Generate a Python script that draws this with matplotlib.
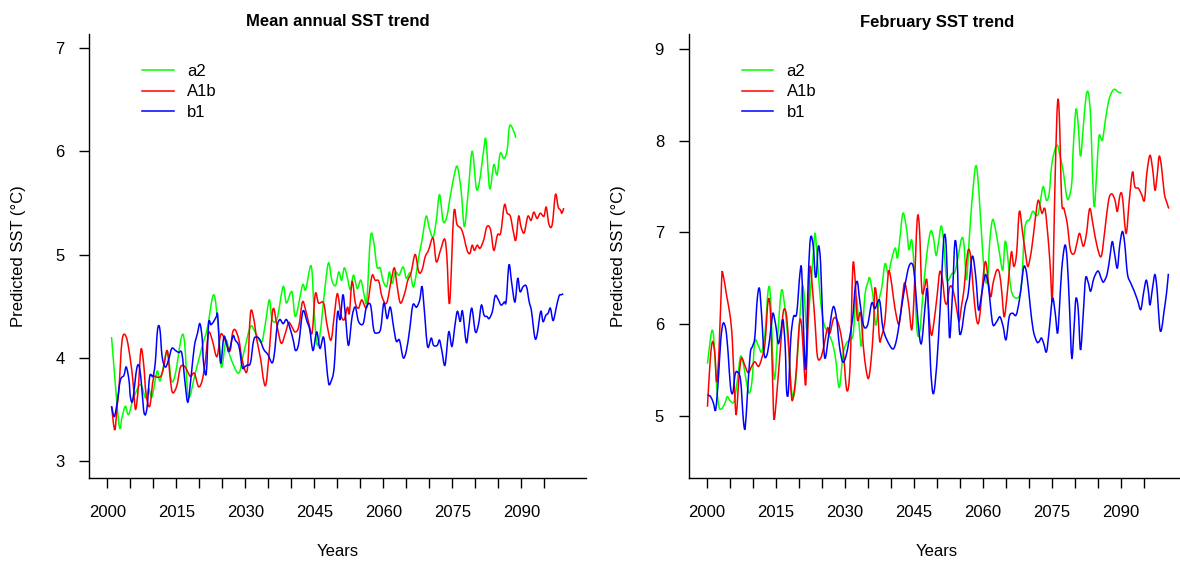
import matplotlib
matplotlib.use("Agg")
import matplotlib.pyplot as plt
from matplotlib.path import Path
from matplotlib.patches import PathPatch

plt.rcParams['font.family'] = ['Liberation Sans', 'DejaVu Sans']
plt.rcParams['font.size'] = 12

# values (year, predicted SST)
ann_a2_yr = [2000.9, 2002.5, 2003.2, 2003.9, 2004.6, 2005.7, 2007.2, 2008.3, 2009.0, 2009.7,
             2010.8, 2011.5, 2013.0, 2013.9, 2014.8, 2016.1, 2016.8, 2017.6, 2019.1, 2020.6,
             2021.7, 2023.1, 2024.1, 2024.8, 2025.8, 2026.7, 2028.5, 2029.6, 2031.1, 2032.2,
             2033.5, 2034.3, 2035.2, 2035.8, 2036.9, 2038.2, 2038.9, 2040.1, 2040.9, 2042.4,
             2043.1, 2044.3, 2044.9, 2045.5, 2046.2, 2047.4, 2048.1, 2048.8, 2049.6, 2050.3,
             2050.9, 2051.5, 2052.1, 2052.8, 2053.5, 2054.3, 2055.1, 2055.9, 2056.4, 2057.2,
             2057.9, 2058.6, 2059.3, 2059.9, 2060.7, 2061.3, 2061.9, 2062.6, 2063.4, 2064.3,
             2065.0, 2065.8, 2066.6, 2067.7, 2068.4, 2069.3, 2070.0, 2070.8, 2071.5, 2072.2,
             2073.0, 2073.8, 2074.6, 2075.7, 2076.2, 2076.9, 2077.6, 2078.4, 2079.3, 2080.2,
             2080.9, 2081.8, 2082.3, 2083.1, 2084.0, 2084.7, 2085.4, 2086.2, 2086.9, 2087.4,
             2088.1, 2088.8]
ann_a2 = [4.20, 3.36, 3.43, 3.53, 3.45, 3.61, 3.74, 3.61, 3.70, 3.62,
          3.87, 3.78, 4.06, 3.78, 3.85, 4.20, 4.14, 3.62, 3.85, 4.11,
          4.28, 4.61, 4.30, 3.91, 4.17, 4.01, 3.85, 4.04, 4.30, 4.24,
          4.15, 4.32, 4.56, 4.37, 4.38, 4.69, 4.53, 4.64, 4.40, 4.70,
          4.66, 4.89, 4.49, 4.14, 4.22, 4.72, 4.92, 4.75, 4.70, 4.83,
          4.75, 4.87, 4.79, 4.66, 4.80, 4.67, 4.75, 4.59, 4.56, 5.17,
          5.12, 4.88, 4.87, 4.75, 4.69, 4.83, 4.72, 4.83, 4.80, 4.88,
          4.77, 4.82, 4.69, 4.98, 5.14, 5.37, 5.25, 5.17, 5.33, 5.58,
          5.32, 5.37, 5.58, 5.83, 5.83, 5.62, 5.27, 5.59, 6.00, 5.64,
          5.71, 6.01, 6.11, 5.64, 5.87, 5.77, 5.98, 5.93, 6.01, 6.24,
          6.22, 6.13]

ann_a1b_yr = [2000.9, 2001.6, 2002.1, 2002.5, 2003.2, 2004.1, 2005.0, 2005.6, 2006.1, 2006.7,
              2007.3, 2007.9, 2008.4, 2009.2, 2010.0, 2010.8, 2011.6, 2012.2, 2013.0, 2013.7,
              2014.2, 2015.1, 2015.9, 2016.9, 2018.0, 2018.9, 2019.8, 2020.6, 2021.3, 2022.0,
              2022.8, 2023.8, 2024.6, 2025.3, 2026.0, 2026.7, 2027.2, 2027.8, 2028.6, 2029.3,
              2030.4, 2031.1, 2031.8, 2032.5, 2033.3, 2034.0, 2034.5, 2035.1, 2036.0, 2036.9,
              2037.8, 2038.7, 2039.4, 2040.1, 2040.8, 2041.6, 2042.4, 2043.1, 2043.8, 2044.5,
              2045.2, 2045.9, 2047.0, 2047.7, 2048.6, 2049.3, 2050.0, 2050.8, 2051.5, 2052.2,
              2052.6, 2053.2, 2053.9, 2054.6, 2055.3, 2056.4, 2057.5, 2058.2, 2059.0, 2059.7,
              2060.7, 2061.7, 2062.4, 2063.0, 2063.7, 2064.6, 2065.3, 2066.0, 2066.9, 2067.7,
              2068.4, 2069.1, 2069.8, 2070.8, 2071.5, 2072.4, 2073.3, 2073.8, 2074.4, 2075.3,
              2076.0, 2076.9, 2077.5, 2078.2, 2078.8, 2079.3, 2079.8, 2080.4, 2081.0, 2081.8,
              2082.5, 2083.3, 2084.0, 2084.8, 2085.5, 2086.3, 2086.9, 2087.6, 2088.3, 2088.8,
              2089.4, 2089.9, 2090.6, 2091.4, 2092.1, 2092.7, 2093.4, 2094.1, 2094.9, 2095.4,
              2096.0, 2096.7, 2097.4, 2098.0, 2098.5, 2098.8, 2099.2]
ann_a1b = [3.53, 3.30, 3.53, 3.69, 4.17, 4.20, 3.98, 3.75, 3.50, 3.70,
           4.08, 3.93, 3.65, 3.53, 3.80, 3.81, 3.82, 3.90, 4.07, 3.78,
           3.66, 3.73, 3.91, 3.91, 3.82, 3.85, 3.72, 3.78, 3.97, 4.24,
           4.17, 4.01, 4.22, 4.20, 4.12, 4.07, 4.24, 4.27, 4.17, 3.98,
           3.88, 4.43, 4.38, 4.17, 3.99, 3.77, 3.75, 4.01, 4.47, 4.30,
           4.14, 4.24, 4.34, 4.30, 4.25, 4.30, 4.54, 4.46, 4.33, 4.24,
           4.62, 4.53, 4.53, 4.33, 4.17, 4.40, 4.62, 4.41, 4.37, 4.49,
           4.43, 4.74, 4.53, 4.48, 4.56, 4.49, 4.79, 4.75, 4.74, 4.59,
           4.53, 4.75, 4.87, 4.69, 4.53, 4.62, 4.75, 4.82, 5.00, 4.83,
           4.85, 4.98, 5.04, 5.16, 4.93, 5.04, 5.15, 4.98, 4.53, 5.40,
           5.29, 5.25, 5.17, 5.04, 5.01, 5.09, 5.04, 5.09, 5.06, 5.14,
           5.27, 5.24, 5.04, 5.19, 5.21, 5.48, 5.40, 5.37, 5.21, 5.14,
           5.37, 5.27, 5.21, 5.37, 5.33, 5.41, 5.35, 5.40, 5.37, 5.46,
           5.29, 5.29, 5.58, 5.46, 5.43, 5.40, 5.45]

ann_b1_yr = [2000.9, 2001.5, 2002.1, 2002.8, 2003.6, 2004.1, 2004.7, 2005.0, 2005.5, 2006.4,
             2007.0, 2007.5, 2008.0, 2008.6, 2009.2, 2009.9, 2010.4, 2010.9, 2011.4, 2011.9,
             2012.6, 2013.3, 2014.0, 2014.8, 2015.5, 2016.2, 2016.9, 2017.5, 2018.2, 2018.9,
             2019.6, 2020.1, 2020.6, 2020.9, 2021.5, 2022.0, 2022.5, 2023.1, 2023.7, 2024.0,
             2024.6, 2025.3, 2025.9, 2026.4, 2027.3, 2027.8, 2028.6, 2029.3, 2029.8, 2030.4,
             2031.1, 2031.8, 2032.5, 2033.2, 2034.0, 2034.9, 2035.8, 2036.3, 2036.9, 2037.5,
             2038.2, 2038.9, 2039.6, 2040.4, 2040.9, 2041.6, 2042.5, 2043.4, 2044.0, 2044.7,
             2045.5, 2046.2, 2047.0, 2047.6, 2048.1, 2048.6, 2049.3, 2050.0, 2050.6, 2051.2,
             2051.7, 2052.4, 2053.2, 2053.9, 2054.6, 2055.6, 2056.3, 2057.2, 2057.9, 2058.6,
             2059.4, 2060.1, 2060.8, 2061.5, 2062.2, 2062.8, 2063.5, 2064.3, 2065.0, 2065.7,
             2066.4, 2067.2, 2067.9, 2068.4, 2068.9, 2069.6, 2070.4, 2070.9, 2071.7, 2072.2,
             2072.7, 2073.4, 2074.2, 2074.9, 2075.6, 2076.1, 2076.7, 2077.2, 2078.0, 2078.5,
             2079.2, 2080.0, 2080.7, 2081.3, 2081.9, 2082.5, 2083.0, 2083.7, 2084.3, 2085.0,
             2085.6, 2086.3, 2086.7, 2087.3, 2087.9, 2088.6, 2089.2, 2089.7, 2090.4, 2091.1,
             2091.7, 2092.2, 2092.9, 2093.4, 2094.2, 2094.7, 2095.3, 2095.8, 2096.3, 2096.9,
             2097.6, 2098.2, 2098.7, 2099.1]
ann_b1 = [3.53, 3.43, 3.56, 3.78, 3.83, 3.91, 3.78, 3.62, 3.59, 3.90,
          3.90, 3.69, 3.46, 3.51, 3.82, 3.82, 3.95, 4.27, 4.28, 4.01,
          3.91, 3.98, 4.09, 4.07, 4.05, 4.04, 3.75, 3.57, 3.82, 4.11,
          4.24, 4.33, 4.19, 3.95, 3.85, 4.33, 4.32, 4.35, 4.40, 4.40,
          3.95, 4.20, 4.14, 4.06, 4.21, 4.17, 4.11, 3.91, 3.91, 3.93,
          3.95, 4.17, 4.20, 4.17, 4.08, 4.03, 3.95, 4.04, 4.30, 4.37,
          4.33, 4.37, 4.30, 4.17, 4.07, 4.14, 4.45, 4.35, 4.27, 4.07,
          4.25, 4.09, 4.20, 3.95, 3.75, 3.77, 3.91, 4.43, 4.37, 4.61,
          4.43, 4.12, 4.40, 4.49, 4.35, 4.33, 4.49, 4.51, 4.27, 4.24,
          4.28, 4.53, 4.38, 4.49, 4.30, 4.16, 4.17, 4.00, 4.07, 4.27,
          4.51, 4.49, 4.56, 4.69, 4.46, 4.11, 4.19, 4.12, 4.12, 4.17,
          4.07, 3.93, 4.25, 4.11, 4.33, 4.45, 4.35, 4.45, 4.15, 4.27,
          4.48, 4.25, 4.33, 4.51, 4.41, 4.40, 4.38, 4.45, 4.60, 4.56,
          4.51, 4.54, 4.55, 4.90, 4.72, 4.54, 4.77, 4.64, 4.69, 4.69,
          4.54, 4.45, 4.20, 4.22, 4.45, 4.35, 4.41, 4.43, 4.48, 4.36,
          4.49, 4.60, 4.61, 4.62]

feb_a2_yr = [2000.1, 2001.0, 2001.5, 2002.1, 2002.6, 2003.2, 2003.9, 2004.4, 2005.1, 2005.9,
             2006.6, 2007.3, 2008.0, 2008.6, 2009.2, 2009.8, 2010.4, 2011.2, 2011.9, 2012.6,
             2013.3, 2013.8, 2014.4, 2014.8, 2015.5, 2016.2, 2016.9, 2017.7, 2018.4, 2019.1,
             2019.9, 2020.6, 2021.1, 2021.7, 2022.4, 2023.1, 2023.5, 2024.0, 2024.6, 2025.4,
             2026.4, 2027.3, 2028.0, 2028.5, 2028.9, 2029.6, 2030.4, 2031.1, 2031.8, 2032.4,
             2033.1, 2033.6, 2034.3, 2035.0, 2035.4, 2036.1, 2036.7, 2037.4, 2038.0, 2038.7,
             2039.4, 2040.1, 2040.9, 2041.4, 2041.9, 2042.6, 2043.4, 2043.9, 2044.5, 2045.0,
             2045.6, 2046.2, 2046.9, 2047.8, 2048.6, 2049.2, 2049.8, 2050.3, 2050.9, 2051.4,
             2052.0, 2052.5, 2053.2, 2053.9, 2054.6, 2055.4, 2055.9, 2056.4, 2057.0, 2057.5,
             2058.3, 2058.8, 2059.4, 2060.0, 2060.5, 2061.0, 2061.5, 2062.1, 2062.8, 2063.6,
             2064.3, 2064.8, 2065.3, 2066.0, 2066.7, 2067.8, 2068.4, 2069.0, 2069.5, 2070.1,
             2070.8, 2071.5, 2072.0, 2072.5, 2073.1, 2073.8, 2074.4, 2074.9, 2075.6, 2076.2,
             2076.7, 2077.4, 2078.2, 2078.7, 2079.3, 2079.6, 2080.2, 2080.7, 2081.2, 2081.8,
             2082.4, 2082.9, 2083.4, 2083.8, 2084.2, 2084.7, 2085.2, 2085.6, 2086.0, 2086.5,
             2087.3, 2088.0, 2088.6, 2089.4, 2090.1]
feb_a2 = [5.57, 5.92, 5.83, 5.32, 5.10, 5.08, 5.14, 5.21, 5.16, 5.16,
          5.39, 5.65, 5.54, 5.36, 5.25, 5.39, 5.81, 5.76, 5.70, 5.90,
          6.37, 6.30, 5.54, 5.43, 5.97, 6.37, 6.19, 5.76, 5.27, 5.28,
          5.83, 6.37, 6.34, 5.94, 6.30, 6.77, 6.99, 6.70, 6.30, 6.01,
          5.90, 5.79, 5.61, 5.36, 5.34, 5.68, 5.80, 5.83, 5.90, 6.30,
          5.97, 5.77, 6.30, 6.46, 6.50, 6.30, 5.99, 6.26, 6.40, 6.66,
          6.55, 6.70, 6.83, 6.72, 6.92, 7.21, 7.03, 6.81, 6.92, 6.63,
          5.97, 5.90, 6.30, 6.77, 7.01, 6.95, 6.75, 6.88, 7.07, 6.92,
          6.52, 6.48, 6.55, 6.57, 6.74, 6.94, 6.85, 6.48, 6.92, 7.28,
          7.70, 7.64, 7.21, 6.74, 6.48, 6.50, 6.92, 7.14, 7.01, 6.77,
          6.59, 6.90, 6.77, 6.41, 6.30, 6.30, 6.45, 7.00, 7.12, 7.14,
          7.23, 7.19, 7.20, 7.35, 7.50, 7.35, 7.43, 7.72, 7.90, 7.95,
          7.84, 7.68, 7.39, 7.38, 7.54, 7.90, 8.34, 8.17, 7.83, 8.15,
          8.48, 8.52, 8.26, 7.64, 7.28, 7.64, 8.04, 8.03, 8.01, 8.19,
          8.43, 8.53, 8.56, 8.53, 8.52]

feb_a1b_yr = [2000.1, 2000.7, 2001.2, 2001.7, 2002.1, 2002.6, 2003.2, 2003.5, 2004.3, 2005.0,
              2005.5, 2006.1, 2006.4, 2007.0, 2007.5, 2008.3, 2009.0, 2009.7, 2010.4, 2011.2,
              2011.9, 2012.6, 2013.3, 2013.8, 2014.3, 2014.6, 2015.3, 2016.1, 2016.6, 2017.2,
              2017.7, 2018.2, 2018.6, 2019.3, 2020.1, 2020.6, 2021.1, 2021.5, 2022.0, 2022.4,
              2023.0, 2023.5, 2024.0, 2024.7, 2025.4, 2026.2, 2026.7, 2027.5, 2028.2, 2028.9,
              2029.6, 2030.4, 2031.1, 2031.7, 2032.2, 2032.7, 2033.4, 2034.0, 2034.6, 2035.1,
              2035.6, 2036.2, 2036.5, 2037.0, 2037.5, 2037.9, 2038.7, 2039.4, 2039.9, 2040.5,
              2041.2, 2041.8, 2042.5, 2043.0, 2043.8, 2044.5, 2045.0, 2045.7, 2046.2, 2046.7,
              2047.3, 2047.8, 2048.3, 2048.8, 2049.3, 2050.0, 2050.6, 2051.2, 2051.7, 2052.2,
              2052.8, 2053.5, 2054.3, 2054.8, 2055.3, 2055.9, 2056.3, 2056.8, 2057.3, 2057.9,
              2058.5, 2059.0, 2059.5, 2060.1, 2060.6, 2061.2, 2061.7, 2062.2, 2063.0, 2063.6,
              2064.1, 2064.6, 2065.2, 2065.7, 2066.2, 2066.7, 2067.3, 2067.9, 2068.6, 2069.3,
              2069.8, 2070.6, 2071.3, 2072.0, 2072.8, 2073.5, 2074.3, 2074.7, 2075.1, 2075.7,
              2076.2, 2076.6, 2077.1, 2077.6, 2078.3, 2079.0, 2079.8, 2080.4, 2081.0, 2081.8,
              2082.5, 2083.2, 2084.0, 2084.8, 2085.7, 2086.5, 2087.3, 2088.0, 2088.7, 2089.2,
              2089.8, 2090.3, 2091.1, 2091.8, 2092.5, 2093.0, 2093.8, 2094.5, 2095.1, 2095.6,
              2096.3, 2096.9, 2097.4, 2097.9, 2098.3, 2098.8, 2099.4, 2100.0, 2100.4]
feb_a1b = [5.10, 5.61, 5.81, 5.68, 5.37, 5.70, 6.50, 6.54, 6.30, 6.10,
           5.83, 5.16, 5.03, 5.45, 5.63, 5.54, 5.47, 5.54, 5.59, 5.54,
           5.63, 5.79, 6.26, 6.12, 5.32, 4.96, 5.32, 5.83, 6.14, 6.12,
           5.83, 5.32, 5.17, 5.43, 6.01, 5.97, 5.54, 5.36, 6.08, 6.63,
           6.34, 6.01, 5.65, 5.63, 5.76, 5.96, 5.90, 6.06, 6.05, 5.94,
           5.72, 5.28, 5.54, 6.63, 6.48, 6.05, 6.12, 5.75, 5.50, 5.41,
           5.57, 5.97, 6.39, 6.23, 5.83, 5.86, 6.05, 6.55, 6.52, 6.30,
           6.08, 6.01, 6.30, 6.45, 6.23, 5.94, 6.30, 7.14, 7.03, 6.37,
           6.40, 6.48, 6.08, 5.88, 6.01, 6.30, 6.57, 6.48, 6.26, 6.23,
           6.41, 6.37, 6.16, 6.03, 6.19, 6.39, 6.63, 6.81, 6.74, 6.37,
           6.08, 6.01, 6.19, 6.55, 6.68, 6.45, 6.30, 6.45, 6.59, 6.55,
           6.34, 6.08, 6.30, 6.57, 6.79, 6.63, 6.77, 7.23, 7.00, 6.75,
           6.63, 6.83, 7.12, 7.35, 7.21, 7.25, 6.85, 6.55, 6.30, 7.64,
           8.41, 8.26, 7.35, 7.26, 7.10, 6.81, 6.77, 6.88, 6.99, 6.85,
           6.99, 7.26, 7.06, 6.85, 6.74, 7.03, 7.35, 7.42, 7.35, 7.23,
           7.41, 7.39, 6.99, 7.35, 7.66, 7.50, 7.48, 7.41, 7.35, 7.64,
           7.84, 7.68, 7.46, 7.64, 7.83, 7.72, 7.43, 7.32, 7.26]

feb_b1_yr = [2000.1, 2000.8, 2001.4, 2001.9, 2002.5, 2003.0, 2003.5, 2004.1, 2004.6, 2005.1,
             2005.6, 2006.1, 2006.6, 2007.3, 2007.9, 2008.3, 2008.8, 2009.4, 2009.9, 2010.4,
             2010.9, 2011.4, 2011.9, 2012.4, 2013.0, 2013.6, 2014.1, 2014.4, 2015.0, 2015.5,
             2016.0, 2016.5, 2017.0, 2017.3, 2017.7, 2018.2, 2018.8, 2019.5, 2020.2, 2020.6,
             2021.1, 2021.5, 2022.0, 2022.5, 2023.1, 2023.5, 2023.8, 2024.2, 2024.7, 2025.3,
             2025.7, 2026.4, 2027.1, 2027.6, 2028.2, 2028.8, 2029.5, 2030.2, 2030.9, 2031.7,
             2032.2, 2032.7, 2033.2, 2034.0, 2034.9, 2035.8, 2036.5, 2037.5, 2038.2, 2039.1,
             2040.4, 2041.2, 2041.9, 2043.0, 2043.9, 2044.7, 2045.2, 2045.9, 2046.6, 2047.4,
             2047.8, 2048.1, 2048.6, 2049.1, 2049.6, 2050.3, 2051.0, 2051.5, 2052.0, 2052.5,
             2052.8, 2053.4, 2053.9, 2054.4, 2054.8, 2055.3, 2056.1, 2056.8, 2057.5, 2057.9,
             2058.5, 2059.0, 2059.5, 2060.1, 2060.6, 2061.2, 2061.7, 2062.2, 2063.0, 2063.7,
             2064.4, 2065.0, 2065.7, 2066.4, 2067.2, 2067.9, 2068.4, 2068.9, 2069.5, 2070.2,
             2070.9, 2071.7, 2072.2, 2072.7, 2073.2, 2073.8, 2074.4, 2075.1, 2075.7, 2076.2,
             2076.6, 2077.1, 2077.8, 2078.3, 2078.8, 2079.3, 2079.8, 2080.2, 2080.7, 2081.2,
             2081.8, 2082.3, 2082.9, 2083.4, 2084.1, 2085.0, 2085.7, 2086.2, 2087.0, 2087.6,
             2088.1, 2088.6, 2089.2, 2089.7, 2090.3, 2090.8, 2091.4, 2092.1, 2092.8, 2093.6,
             2094.3, 2094.9, 2095.5, 2096.0, 2096.3, 2096.9, 2097.4, 2097.9, 2098.4, 2098.8,
             2099.3, 2099.9, 2100.3]
feb_b1 = [5.23, 5.21, 5.14, 5.07, 5.43, 5.83, 6.01, 5.94, 5.68, 5.32,
          5.25, 5.45, 5.48, 5.39, 4.96, 4.87, 5.25, 5.68, 5.76, 5.86,
          6.26, 6.39, 6.08, 5.68, 5.66, 5.83, 6.05, 6.12, 5.97, 5.79,
          5.90, 6.05, 5.76, 5.28, 5.27, 5.83, 6.08, 6.12, 6.55, 6.57,
          5.79, 5.54, 6.48, 6.94, 6.85, 6.54, 6.55, 6.85, 6.66, 5.83,
          5.63, 5.86, 6.12, 6.19, 6.05, 5.76, 5.59, 5.65, 5.83, 6.08,
          6.39, 6.46, 6.26, 5.99, 5.99, 6.23, 6.17, 6.26, 5.97, 5.83,
          5.73, 5.83, 6.05, 6.41, 6.63, 6.65, 6.48, 6.01, 5.79, 6.19,
          6.39, 6.19, 5.54, 5.25, 5.36, 5.83, 6.48, 6.95, 6.85, 6.12,
          5.86, 6.37, 6.90, 6.70, 5.97, 5.92, 6.19, 6.34, 6.70, 6.72,
          6.48, 6.16, 6.26, 6.45, 6.54, 6.41, 6.16, 5.99, 6.03, 6.08,
          5.97, 5.83, 6.08, 6.12, 6.10, 6.26, 6.45, 6.63, 6.55, 6.23,
          5.94, 5.81, 5.81, 5.85, 5.79, 5.70, 5.94, 6.28, 6.12, 5.90,
          6.16, 6.59, 6.86, 6.70, 6.19, 5.63, 5.97, 6.28, 6.16, 5.72,
          6.12, 6.50, 6.45, 6.36, 6.50, 6.58, 6.50, 6.46, 6.55, 6.74,
          6.90, 6.77, 6.61, 6.85, 7.01, 6.88, 6.55, 6.45, 6.37, 6.26,
          6.16, 6.34, 6.48, 6.34, 6.21, 6.41, 6.54, 6.34, 5.97, 5.94,
          6.12, 6.34, 6.55]

scenarios = ['a2', 'A1b', 'b1']
colours = ['#00ff00', '#ff0000', '#0000ff']
x_ticks = list(range(2000, 2100, 5))
x_labels = ['2000', '2015', '2030', '2045', '2060', '2075', '2090']


def smooth_line(ax, xs, ys, colour):
    # smooth curve through the points (Catmull-Rom drawn as cubic Bezier segments)
    verts = [(xs[0], ys[0])]
    codes = [Path.MOVETO]
    n = len(xs)
    for i in range(n - 1):
        x0, y0 = xs[max(i - 1, 0)], ys[max(i - 1, 0)]
        x1, y1 = xs[i], ys[i]
        x2, y2 = xs[i + 1], ys[i + 1]
        x3, y3 = xs[min(i + 2, n - 1)], ys[min(i + 2, n - 1)]
        verts += [(x1 + (x2 - x0) / 6, y1 + (y2 - y0) / 6),
                  (x2 - (x3 - x1) / 6, y2 - (y3 - y1) / 6),
                  (x2, y2)]
        codes += [Path.CURVE4] * 3
    ax.add_patch(PathPatch(Path(verts, codes), fill=False, edgecolor=colour, lw=1.1))


W, H = 1180, 561
fig = plt.figure(figsize=(W / 100, H / 100), dpi=100)

panels = [
    ('Mean annual SST trend', 89, (2.835, 7.136), [3, 4, 5, 6, 7],
     [(ann_a2_yr, ann_a2), (ann_a1b_yr, ann_a1b), (ann_b1_yr, ann_b1)]),
    ('February SST trend', 688.6, (4.324, 9.163), [5, 6, 7, 8, 9],
     [(feb_a2_yr, feb_a2), (feb_a1b_yr, feb_a1b), (feb_b1_yr, feb_b1)]),
]

for title, left_px, ylim, yticks, series in panels:
    ax = fig.add_axes([left_px / W, 1 - 478 / H, 496.8 / W, 444 / H])
    for (yr, val), name, col in zip(series, scenarios, colours):
        smooth_line(ax, yr, val, col)
        ax.plot([], [], color=col, lw=1.1, label=name)
    ax.set_xlim(1996, 2104)
    ax.set_ylim(*ylim)
    ax.spines['top'].set_visible(False)
    ax.spines['right'].set_visible(False)
    for s in ('left', 'bottom'):
        ax.spines[s].set_linewidth(1.0)
    ax.set_xticks(x_ticks)
    ax.set_xticklabels([str(t) if str(t) in x_labels else '' for t in x_ticks])
    ax.set_yticks(yticks)
    ax.tick_params(direction='out', length=7.2, width=1.0, labelsize=12)
    ax.tick_params(axis='x', pad=12)
    ax.tick_params(axis='y', pad=10.5)

    cx = (left_px + 248.4) / W
    fig.text(cx, 1 - 22 / H, title, ha='center', va='center', fontsize=12, fontweight='bold')
    fig.text(cx, 1 - 552 / H, 'Years', ha='center', va='center', fontsize=12)
    fig.text((left_px - 70) / W, 1 - 256 / H, 'Predicted SST (°C)', rotation=90,
             ha='center', va='center', fontsize=12)

    ax.legend(loc='upper left', bbox_to_anchor=((left_px + 53) / W, 1 - 64 / H),
              bbox_transform=fig.transFigure, frameon=False, borderpad=0,
              borderaxespad=0, handlelength=1.9, handletextpad=0.8,
              labelspacing=0.33, fontsize=12)

fig.savefig('out.png', dpi=100)
